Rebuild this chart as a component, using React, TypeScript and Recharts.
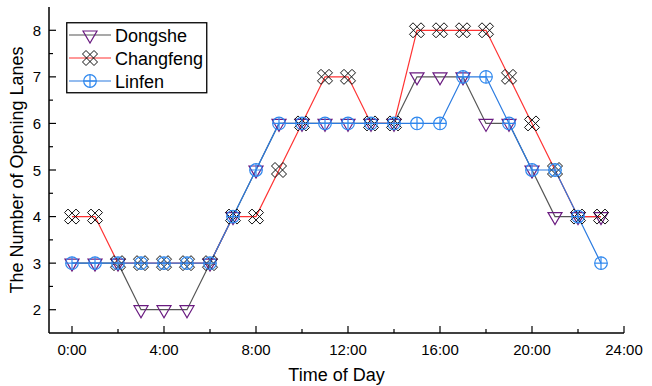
import React from 'react';
import { LineChart, Line, XAxis, YAxis, Legend } from 'recharts';

// hour of day (0..23) and opening lanes per station
const hours = [0, 1, 2, 3, 4, 5, 6, 7, 8, 9, 10, 11, 12, 13, 14, 15, 16, 17, 18, 19, 20, 21, 22, 23];
const dongshe = [3, 3, 3, 2, 2, 2, 3, 4, 5, 6, 6, 6, 6, 6, 6, 7, 7, 7, 6, 6, 5, 4, 4, 4];
const changfeng = [4, 4, 3, 3, 3, 3, 3, 4, 4, 5, 6, 7, 7, 6, 6, 8, 8, 8, 8, 7, 6, 5, 4, 4];
const linfen = [3, 3, 3, 3, 3, 3, 3, 4, 5, 6, 6, 6, 6, 6, 6, 6, 6, 7, 7, 6, 5, 5, 4, 3];

const xTicks = [0, 2, 4, 6, 8, 10, 12, 14, 16, 18, 20, 22, 24];
const yTicks = [2, 2.5, 3, 3.5, 4, 4.5, 5, 5.5, 6, 6.5, 7, 7.5, 8];

const data = hours.map((h, i) => ({
  hour: h,
  Dongshe: dongshe[i],
  Changfeng: changfeng[i],
  Linfen: linfen[i],
}));

const FONT = '"Liberation Sans", Arial, sans-serif';

const COLORS = {
  dongsheLine: '#555555',
  dongsheMark: '#6a1b80',
  changfengLine: '#ff3333',
  changfengMark: '#111111',
  linfenLine: '#2b7be0',
  linfenMark: '#2f88ee',
};

const TriangleDown = ({ cx, cy, color }: any) => (
  <polygon
    points={`${cx - 7},${cy - 4} ${cx + 7},${cy - 4} ${cx},${cy + 8}`}
    fill="none"
    stroke={color}
    strokeWidth={1.2}
  />
);

const CrossX = ({ cx, cy, color }: any) => {
  const s = 7.5;
  const t = 3.5;
  const a = `${cx - s},${cy - s + t} ${cx - s + t},${cy - s} ${cx + s},${cy + s - t} ${cx + s - t},${cy + s}`;
  const b = `${cx + s - t},${cy - s} ${cx + s},${cy - s + t} ${cx - s + t},${cy + s} ${cx - s},${cy + s - t}`;
  return (
    <g fill="none" stroke={color} strokeWidth={1}>
      <polygon points={a} />
      <polygon points={b} />
    </g>
  );
};

const CirclePlus = ({ cx, cy, color }: any) => (
  <g fill="none" stroke={color} strokeWidth={1.2}>
    <circle cx={cx} cy={cy} r={6.3} />
    <line x1={cx - 6.3} y1={cy} x2={cx + 6.3} y2={cy} />
    <line x1={cx} y1={cy - 6.3} x2={cx} y2={cy + 6.3} />
  </g>
);

const makeTick = (side: 'bottom' | 'top' | 'left' | 'right') => (props: any) => {
  const { x, y, payload, index } = props;
  const v = payload.value;
  const horizontal = side === 'bottom' || side === 'top';
  const major = horizontal ? v % 4 === 0 : Number.isInteger(v);
  const len = major ? 7 : 4;
  let line;
  if (side === 'bottom') line = <line x1={x} y1={y} x2={x} y2={y - len} />;
  else if (side === 'top') line = <line x1={x} y1={y} x2={x} y2={y + len} />;
  else if (side === 'left') line = <line x1={x} y1={y} x2={x + len} y2={y} />;
  else line = <line x1={x} y1={y} x2={x - len} y2={y} />;
  let label = null;
  if (major && side === 'bottom') {
    label = (
      <text x={x} y={y + 22} textAnchor="middle" fontSize={15} fontFamily={FONT} fill="#000" stroke="none">
        {`${v}:00`}
      </text>
    );
  } else if (major && side === 'left') {
    label = (
      <text x={x - 8} y={y + 5.5} textAnchor="end" fontSize={15} fontFamily={FONT} fill="#000" stroke="none">
        {v}
      </text>
    );
  }
  return (
    <g key={`${side}-${index}`} stroke="#000" strokeWidth={1.2}>
      {line}
      {label}
    </g>
  );
};

const legendItems = [
  { name: 'Dongshe', line: COLORS.dongsheLine, mark: COLORS.dongsheMark, Shape: TriangleDown },
  { name: 'Changfeng', line: COLORS.changfengLine, mark: COLORS.changfengMark, Shape: CrossX },
  { name: 'Linfen', line: COLORS.linfenLine, mark: COLORS.linfenMark, Shape: CirclePlus },
];

const LegendBox = () => (
  <svg width={142} height={72} style={{ display: 'block' }}>
    <rect x={0.75} y={0.75} width={140} height={70} fill="#fff" stroke="#000" strokeWidth={1.3} />
    {legendItems.map((it, i) => {
      const cy = 13 + i * 23;
      const Shape = it.Shape;
      return (
        <g key={it.name}>
          <line x1={3} y1={cy} x2={45} y2={cy} stroke={it.line} strokeWidth={1.2} />
          <Shape cx={24} cy={cy} color={it.mark} />
          <text x={49} y={cy + 6.5} fontSize={18} fontFamily={FONT} fill="#000">
            {it.name}
          </text>
        </g>
      );
    })}
  </svg>
);

const axisLine = { stroke: '#000', strokeWidth: 1.5 };

export default function App() {
  return (
    <div style={{ width: 652, height: 386, background: '#fff' }}>
      <style>{`body{margin:0;}`}</style>
      <LineChart width={652} height={386} data={data} margin={{ top: 7, right: 28, bottom: 0, left: 0 }}>
        <XAxis
          dataKey="hour"
          type="number"
          domain={[-1, 24]}
          ticks={xTicks}
          interval={0}
          height={53}
          tickSize={0}
          tickMargin={0}
          tickLine={false}
          axisLine={axisLine}
          tick={makeTick('bottom')}
          label={(p: any) => {
            const vb = p.viewBox;
            return (
              <text x={vb.x + vb.width / 2} y={vb.y + 48} textAnchor="middle" fontSize={18} fontFamily={FONT} fill="#000">
                Time of Day
              </text>
            );
          }}
        />
        <XAxis
          xAxisId="top"
          orientation="top"
          dataKey="hour"
          type="number"
          domain={[-1, 24]}
          ticks={xTicks}
          interval={0}
          height={0}
          tickSize={0}
          tickMargin={0}
          tickLine={false}
          axisLine={axisLine}
          tick={makeTick('top')}
        />
        <YAxis
          type="number"
          domain={[1.5, 8.5]}
          ticks={yTicks}
          interval={0}
          width={49}
          allowDataOverflow
          tickSize={0}
          tickMargin={0}
          tickLine={false}
          axisLine={axisLine}
          tick={makeTick('left')}
          label={(p: any) => {
            const vb = p.viewBox;
            const cx = 23;
            const cy = vb.y + vb.height / 2;
            return (
              <text
                x={cx}
                y={cy}
                transform={`rotate(-90 ${cx} ${cy})`}
                textAnchor="middle"
                fontSize={18}
                fontFamily={FONT}
                fill="#000"
              >
                The Number of Opening Lanes
              </text>
            );
          }}
        />
        <YAxis
          yAxisId="right"
          orientation="right"
          type="number"
          domain={[1.5, 8.5]}
          ticks={yTicks}
          interval={0}
          width={0}
          allowDataOverflow
          tickSize={0}
          tickMargin={0}
          tickLine={false}
          axisLine={axisLine}
          tick={makeTick('right')}
        />
        <Legend
          layout="vertical"
          align="center"
          verticalAlign="middle"
          wrapperStyle={{ left: 66, top: 22, width: 142, height: 72 }}
          content={() => <LegendBox />}
        />
        <Line
          dataKey="Dongshe"
          stroke={COLORS.dongsheLine}
          strokeWidth={1.2}
          isAnimationActive={false}
          dot={(p: any) => <TriangleDown key={`d-${p.index}`} cx={p.cx} cy={p.cy} color={COLORS.dongsheMark} />}
          activeDot={false}
        />
        <Line
          dataKey="Changfeng"
          stroke={COLORS.changfengLine}
          strokeWidth={1.2}
          isAnimationActive={false}
          dot={(p: any) => <CrossX key={`c-${p.index}`} cx={p.cx} cy={p.cy} color={COLORS.changfengMark} />}
          activeDot={false}
        />
        <Line
          dataKey="Linfen"
          stroke={COLORS.linfenLine}
          strokeWidth={1.2}
          isAnimationActive={false}
          dot={(p: any) => <CirclePlus key={`l-${p.index}`} cx={p.cx} cy={p.cy} color={COLORS.linfenMark} />}
          activeDot={false}
        />
      </LineChart>
    </div>
  );
}
